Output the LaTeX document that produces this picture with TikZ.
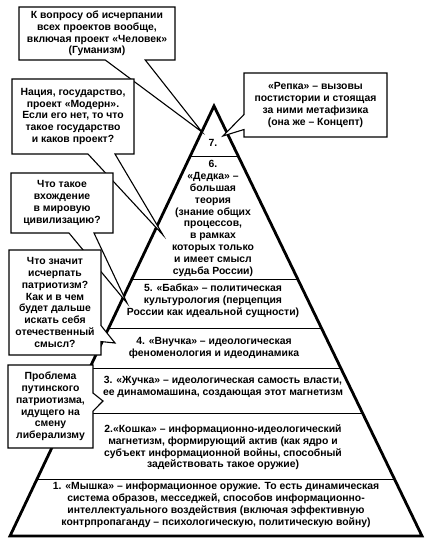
\documentclass[tikz,border=0pt]{standalone}
\usepackage{fontspec}
\setmainfont{Liberation Sans}
\usetikzlibrary{shapes.callouts}

\tikzset{
  level/.style={font=\fontsize{10.4}{11.8}\selectfont\bfseries, align=center, inner sep=0pt},
  callbox/.style={rectangle callout, draw, fill=white, line width=1.1pt,
    font=\fontsize{10.4}{11.8}\selectfont\bfseries, align=center, inner sep=0pt},
}

\begin{document}
\begin{tikzpicture}[x=1pt,y=-1pt]
\useasboundingbox (0,0) rectangle (424,545);
% pyramid
\coordinate (apex) at (214,106);
\coordinate (bl) at (10,536);
\coordinate (br) at (422,536);
\draw [line width=2.8pt] (bl) -- (apex) -- (br) -- cycle;
\draw [line width=0.9pt] (190.3,156) -- (238.2,156);
\draw [line width=0.9pt] (131.9,279) -- (297.7,279);
\draw [line width=0.9pt] (108.7,328) -- (321.4,328);
\draw [line width=0.9pt] (89.7,368) -- (340.7,368);
\draw [line width=0.9pt] (68.4,413) -- (362.5,413);
\draw [line width=0.9pt] (37.0,479) -- (394.4,479);
% levels
\node[level] (n7) at (213,143) {7.};
\node[level] (n6) at (213,218.5) {6.\\«Дедка» –\\большая\\теория\\(знание общих\\процессов,\\в рамках\\которых только\\и имеет смысл\\судьба России)};
\node[level] (n5) at (213,300.5) {5. «Бабка» – политическая\\культурология (перцепция\\России как идеальной сущности)};
\node[level] (n4) at (214,348) {4. «Внучка» – идеологическая\\феноменология и идеодинамика};
\node[level] (n3) at (223,387) {3. «Жучка» – идеологическая самость власти,\\ее динамомашина, создающая этот магнетизм};
\node[level] (n2) at (223,447.5) {2.«Кошка» – информационно-идеологический\\магнетизм, формирующий актив (как ядро и\\субъект информационной войны, способный\\задействовать такое оружие)};
\node[level] (n1) at (216,505) {1. «Мышка» – информационное оружие. То есть динамическая\\система образов, месседжей, способов информационно-\\интеллектуального воздействия (включая эффективную\\контрпропаганду – психологическую, политическую войну)};
% questions
\node[callbox, minimum width=156pt, minimum height=53pt, callout absolute pointer={(202,132)}, callout pointer width=40pt] (human) at (97,33.5) {К вопросу об исчерпании\\всех проектов вообще,\\включая проект «Человек»\\(Гуманизм)};
\node[callbox, minimum width=122pt, minimum height=75pt, callout absolute pointer={(163,235)}, callout pointer width=27pt] (nation) at (73,116.5) {Нация, государство,\\проект «Модерн».\\Если его нет, то что\\такое государство\\и каков проект?};
\node[callbox, minimum width=102pt, minimum height=60pt, callout absolute pointer={(127,303)}, callout pointer width=25pt] (civil) at (62,203) {Что такое\\вхождение\\в мировую\\цивилизацию?};
\node[callbox, minimum width=92pt, minimum height=105pt, callout absolute pointer={(115,343)}, callout pointer width=16pt] (patriot) at (55,302.5) {Что значит\\исчерпать\\патриотизм?\\Как и в чем\\будет дальше\\искать себя\\отечественный\\смысл?};
\node[callbox, minimum width=85pt, minimum height=83pt, callout absolute pointer={(103,401)}, callout pointer width=18pt] (putin) at (50.5,406.5) {Проблема\\путинского\\патриотизма,\\идущего на\\смену\\либерализму};
\node[callbox, minimum width=143pt, minimum height=64pt, callout absolute pointer={(223,136)}, callout pointer width=15pt] (repka) at (315.5,105) {«Репка» – вызовы\\постистории и стоящая\\за ними метафизика\\(она же – Концепт)};
\end{tikzpicture}
\end{document}
